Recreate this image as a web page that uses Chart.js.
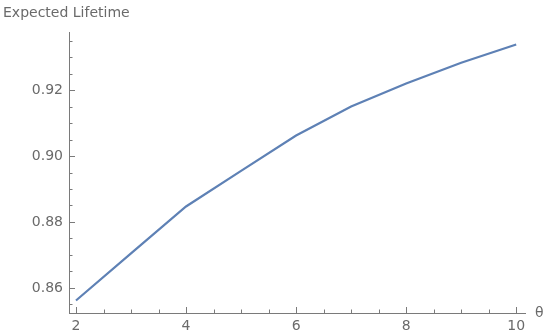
<!DOCTYPE html>
<html>
<head>
<meta charset="UTF-8">
<title>Expected Lifetime</title>
<script src="https://cdn.jsdelivr.net/npm/chart.js@4.4.2/dist/chart.umd.min.js"></script>
<style>
    html, body { margin: 0; padding: 0; background: #fff; }
    #wrap { position: relative; width: 550px; height: 336px; }
</style>
</head>
<body>
<div id="wrap"><canvas id="lifeChart"></canvas></div>
<script>
    // data
    const theta = [2, 3, 4, 5, 6, 7, 8, 9, 10];
    const lifetime = [0.8562, 0.8705, 0.8847, 0.8955, 0.9062, 0.9150, 0.9220, 0.9283, 0.9338];
    const xTicks = [2, 4, 6, 8, 10];
    const yTicks = [0.86, 0.88, 0.90, 0.92];
    const xMinorStep = 0.5;
    const yMinorStep = 0.005;

    const axisColor = '#7a7a7a';
    const labelColor = '#6a6a6a';
    const font = { family: 'DejaVu Sans', size: 14 };

    // Mathematica-style ticks pointing into the plot, plus axis labels
    const tickMarks = {
        id: 'tickMarks',
        afterDraw(chart) {
            const { ctx, chartArea: a, scales: { x, y } } = chart;
            ctx.save();
            ctx.strokeStyle = axisColor;
            ctx.lineWidth = 1;
            ctx.beginPath();
            for (let v = 2; v <= 10 + 1e-9; v += xMinorStep) {
                const px = Math.round(x.getPixelForValue(v)) + 0.5;
                const len = xTicks.includes(Math.round(v * 100) / 100) ? 6 : 3.5;
                ctx.moveTo(px, a.bottom);
                ctx.lineTo(px, a.bottom - len);
            }
            for (let v = 0.855; v <= y.max; v += yMinorStep) {
                const r = Math.round(v * 1000) / 1000;
                const py = Math.round(y.getPixelForValue(r)) + 0.5;
                const len = yTicks.some(t => Math.abs(t - r) < 1e-6) ? 6 : 3.5;
                ctx.moveTo(a.left, py);
                ctx.lineTo(a.left + len, py);
            }
            ctx.stroke();

            ctx.fillStyle = labelColor;
            ctx.font = '14px "DejaVu Sans"';
            ctx.textBaseline = 'middle';
            ctx.textAlign = 'left';
            ctx.fillText('Expected Lifetime', 3, 13);
            ctx.fillText('θ', 535, a.bottom);
            ctx.restore();
        }
    };

    new Chart(document.getElementById('lifeChart'), {
        type: 'line',
        data: {
            datasets: [{
                data: theta.map((t, i) => ({ x: t, y: lifetime[i] })),
                borderColor: '#5e81b5',
                borderWidth: 2.2,
                pointRadius: 0,
                tension: 0,
                fill: false
            }]
        },
        options: {
            responsive: true,
            maintainAspectRatio: false,
            animation: false,
            layout: { padding: { left: 0, right: 25, top: 32, bottom: 0 } },
            plugins: { legend: { display: false }, tooltip: { enabled: false } },
            scales: {
                x: {
                    type: 'linear',
                    min: 1.873,
                    max: 10.16,
                    afterFit: s => { s.height = 23; },
                    afterBuildTicks: s => { s.ticks = xTicks.map(v => ({ value: v })); },
                    grid: { display: false, drawTicks: false },
                    border: { display: true, color: axisColor, width: 1 },
                    ticks: { color: labelColor, font: font, padding: 5, maxRotation: 0,
                             callback: v => String(v) }
                },
                y: {
                    type: 'linear',
                    min: 0.8524,
                    max: 0.9376,
                    afterFit: s => { s.width = 69; },
                    afterBuildTicks: s => { s.ticks = yTicks.map(v => ({ value: v })); },
                    grid: { display: false, drawTicks: false },
                    border: { display: true, color: axisColor, width: 1 },
                    ticks: { color: labelColor, font: font, padding: 6,
                             callback: v => v.toFixed(2) }
                }
            }
        },
        plugins: [tickMarks]
    });
</script>
</body>
</html>
